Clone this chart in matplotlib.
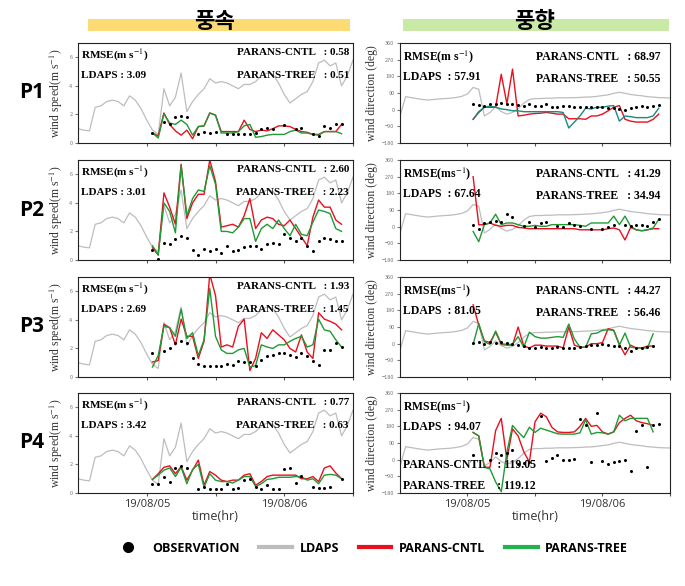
import numpy as np
import matplotlib
matplotlib.use("Agg")
import matplotlib.pyplot as plt
from matplotlib.lines import Line2D
from matplotlib.patches import Rectangle

plt.rcParams['font.family'] = ['Noto Sans CJK KR', 'DejaVu Sans']
plt.rcParams['mathtext.fontset'] = 'stix'

nan = np.nan

# time axis in hours from 19/08/04 12:00
ldaps_hours = np.arange(0, 49)
model_hours = np.arange(13, 47)

# LDAPS (same grid point in every panel)
ldaps_speed = [1.0, 0.9, 0.85, 2.5, 2.6, 2.9, 3.0, 2.9, 2.6, 3.3,
               3.0, 2.4, 1.6, 0.9, 0.6, 3.8, 2.6, 3.2, 4.9, 2.2,
               2.9, 3.4, 3.8, 4.5, 4.2, 4.3, 4.2, 4.0, 3.8, 4.1,
               4.1, 4.3, 4.7, 4.9, 4.8, 4.2, 3.4, 2.8, 3.1, 3.4,
               3.6, 4.3, 5.6, 5.8, 5.4, 5.6, 4.0, 4.7, 5.8]
ldaps_dir = [-35, 70, 65, 60, 55, 52, 55, 58, 60, 62,
             66, 72, 85, 120, 110, -34, -15, 15, -10, -24,
             -15, 5, 35, 55, 60, 60, 62, 62, 64, 64,
             64, 65, 66, 68, 69, 72, 76, 80, 88, 94,
             88, 82, 78, 75, 70, 68, 65, 64, 63]

# wind speed
obs_spd = [
    [0.7, nan, 1.5, 1.35, 1.8, 1.9, 1.8, nan, 0.6, 0.8, 0.7, 0.75, nan, 0.6, 0.6, 0.6, 0.6,
     0.6, 0.7, 1.0, 1.05, 0.95, nan, 1.25, nan, 0.95, 1.05, nan, 0.6, 0.5, 1.2, 1.05, 1.3, 1.35],
    [0.7, 0.1, 1.2, 1.15, 1.5, 1.7, 1.55, 0.7, 0.35, 0.75, 0.6, 0.75, 0.5, 1.0, 0.65, 0.7, 0.9,
     1.0, 0.95, 0.75, 1.15, 1.2, 1.1, 1.8, 1.55, 1.3, 1.55, 0.95, 0.6, 1.3, 1.55, 1.45, 1.3, 1.3],
    [1.65, nan, 1.8, 2.0, 2.35, 2.5, 2.35, 1.3, 0.9, 0.8, 0.8, 0.8, 0.75, 0.9, 0.85, 1.15, 1.05,
     1.05, 0.8, 1.2, 1.5, 1.55, 1.7, 1.7, 1.55, 1.4, 1.7, 1.5, 1.15, 0.85, 1.9, 1.9, 2.35, 2.1],
    [0.65, 0.65, 1.15, 0.8, 1.75, 1.9, 1.75, nan, 0.25, 0.4, 0.3, 0.3, 0.3, 0.65, 0.3, 0.35, 0.9,
     0.95, 0.4, 0.3, 0.55, 0.25, 0.3, 1.65, 1.75, 0.7, 1.2, nan, 0.4, 0.35, 0.35, 0.45, nan, 1.0],
]
cntl_spd = [
    [0.7, 0.5, 2.1, 1.3, 0.85, 0.55, 0.9, 0.3, 1.15, 1.2, 2.1, 1.95, 0.8, 0.8, 0.8, 0.8, 1.6,
     0.95, 0.8, 0.9, 0.85, 1.0, 1.2, 1.2, 1.15, 0.95, 0.8, 0.75, 0.6, 0.6, 0.8, 0.8, 0.8, 1.3],
    [0.85, 0.35, 4.7, 3.7, 2.5, 6.7, 2.9, 4.0, 4.6, 4.6, 7.0, 5.5, 2.3, 2.4, 2.5, 2.3, 3.1,
     4.3, 2.2, 2.8, 3.0, 2.9, 2.5, 2.4, 2.8, 2.2, 1.6, 1.0, 3.0, 4.2, 3.7, 3.7, 2.8, 2.5],
    [1.05, 1.15, 3.7, 3.45, 2.25, 4.05, 2.85, 2.85, 1.3, 2.5, 7.2, 5.7, 2.1, 2.25, 2.1, 3.55, 4.05,
     0.45, 1.3, 3.1, 2.7, 3.3, 2.95, 2.6, 2.0, 1.75, 2.95, 1.75, 1.3, 4.5, 4.05, 3.9, 3.7, 3.3],
    [0.95, 1.35, 1.8, 1.9, 1.35, 1.85, 0.9, 1.6, 2.3, 0.55, 1.5, 1.25, 0.9, 0.8, 0.9, 0.9, 1.25,
     1.35, 0.55, 0.8, 1.15, 1.25, 1.25, 1.25, 1.25, 1.25, 1.0, 1.0, 1.15, 0.8, 1.75, 1.9, 1.4, 1.0],
]
tree_spd = [
    [0.7, 0.35, 2.05, 1.4, 1.3, 1.6, 1.3, 0.55, 1.15, 1.2, 2.1, 1.95, 0.7, 0.7, 0.7, 0.8, 1.2,
     1.3, 0.4, 0.45, 0.55, 0.6, 0.6, 0.6, 0.8, 0.9, 0.7, 0.7, 0.6, 0.55, 0.8, 0.8, 0.8, 0.65],
    [1.0, 0.35, 4.0, 3.4, 1.9, 6.6, 3.1, 4.3, 4.9, 4.8, 6.6, 5.3, 2.0, 2.0, 1.9, 2.3, 2.9,
     2.9, 1.3, 2.2, 2.5, 2.2, 2.8, 2.2, 1.7, 2.5, 1.8, 1.7, 2.65, 3.5, 3.4, 3.25, 2.2, 2.0],
    [0.7, 1.5, 3.55, 3.45, 2.85, 4.75, 2.7, 3.1, 1.5, 2.6, 6.2, 2.85, 1.9, 1.65, 1.65, 1.9, 2.0,
     0.7, 0.8, 2.25, 2.1, 2.0, 2.25, 2.25, 2.5, 2.7, 2.85, 2.1, 2.25, 4.05, 3.3, 3.2, 2.6, 2.1],
    [0.95, 1.25, 1.6, 1.75, 1.15, 1.8, 0.65, 1.65, 2.0, 0.4, 1.35, 0.9, 0.8, 0.8, 0.7, 0.9, 1.15,
     1.15, 0.45, 0.65, 0.95, 1.0, 1.1, 1.1, 1.1, 1.15, 1.15, 0.9, 1.0, 0.65, 1.25, 1.3, 1.25, 1.0],
]

# wind direction
obs_dir = [
    [32, 26, 22, 32, 32, 38, 32, 32, 26, 19, 32, 22, 19, 32, 13, 13, 19,
     19, 13, 13, 13, 13, 13, 13, 8, 8, 4, 0, 8, 13, 19, 13, 22, 26],
    [11, -11, 20, 26, 30, 26, 67, 52, nan, 2, 26, -4, 20, 26, nan, 2, -4,
     20, 11, 2, nan, -11, nan, -11, -4, 7, nan, 11, 2, 7, 7, 2, 26, 39],
    [6, 11, 0, 11, 6, 11, 6, 0, -8, -13, -23, -23, -19, -23, -23, -19, -23,
     -23, -23, -19, -13, -8, -8, -4, -8, -13, -13, -23, -38, -23, -23, -19, -13, nan],
    [25, nan, nan, -4, 34, 25, 34, 53, -26, -19, -13, nan, 238, -8, 11, 25, 0,
     0, 4, 219, 185, -15, 251, -8, -23, -15, -8, -4, -60, 157, 185, -38, 189, 190],
]
cntl_dir = [
    [-52, -15, 13, 13, 13, 191, 32, 219, -34, -30, -24, -21, -19, -15, -19, -24, -24,
     -49, -49, -49, -52, -34, -34, -24, -6, 13, 22, -52, -62, -67, -67, -67, -52, -24],
    [270, 10, 11, 20, 7, 2, 7, 7, -4, -7, -11, -11, -11, -11, -11, -11, -11,
     -11, -11, -17, -17, -17, -17, -17, -11, -7, -17, -72, -4, -17, -22, -17, -11, -11],
    [210, 100, 15, 6, 62, -4, -8, -8, 90, -13, -23, -8, -8, -13, -13, -13, -23,
     90, -8, -19, -19, 0, 0, 6, 81, 72, -4, -60, -8, -23, -23, -13, -13, nan],
    [147, 128, -41, -41, 157, 223, 0, 166, 128, 43, -13, 204, 251, 232, 175, 150, 147,
     147, 150, 180, 223, 180, 185, 150, 138, 150, 200, 223, 240, 210, 200, 194, 185, nan],
]
tree_dir = [
    [-52, -11, 13, 19, 13, 4, 0, -6, -6, -11, -11, -11, -11, -11, -11, -11, -15,
     -99, -67, -34, 8, 4, 13, 13, 19, 22, -62, -34, -38, -43, -43, -43, -34, 8],
    [-26, -81, 11, 20, 67, 11, 20, 20, 11, 2, 2, 7, 2, 2, 11, 11, 11,
     11, 11, 7, 2, 20, 20, 20, 20, 57, 11, 57, 2, -17, -22, -17, -7, 39],
    [-4, 109, 11, -4, 68, 0, -4, -4, 38, -19, 62, 38, 30, 30, 34, 38, 34,
     106, 25, -19, -19, 53, 57, 72, 75, 72, -8, 57, -19, -23, -23, -23, 53, nan],
    [147, 128, -41, -50, -120, -173, 40, 185, 150, 119, 175, 147, 170, 160, 150, 140, 138,
     138, 138, 145, 215, 138, 147, 145, 138, 150, 240, 210, 223, 223, 223, 223, 150, nan],
]

# RMSE texts
points = ['P1', 'P2', 'P3', 'P4']
spd_ldaps = ['3.09', '3.01', '2.69', '3.42']
spd_cntl = ['0.58', '2.60', '1.93', '0.77']
spd_tree = ['0.51', '2.23', '1.45', '0.63']
dir_ldaps = ['57.91', '67.64', '81.05', '94.07']
dir_cntl = ['68.97', '41.29', '44.27', '119.05']
dir_tree = ['50.55', '34.94', '56.46', '119.12']

xticks = [12, 24, 36, 48]
xticklabels = ['19/08/05', '', '19/08/06', '']

c_ldaps = '#bdbdbd'
c_cntl = '#e8101e'
c_tree = '#1f9a36'
serif = 'Liberation Serif'

W, H = 685, 586
fig = plt.figure(figsize=(W / 100, H / 100), dpi=100)

# headers with highlight bands
fig.add_artist(Rectangle((88 / W, 1 - 31 / H), 262 / W, 12 / H,
                         transform=fig.transFigure, color='#fdd865', lw=0, alpha=0.9))
fig.add_artist(Rectangle((403 / W, 1 - 31 / H), 266 / W, 12 / H,
                         transform=fig.transFigure, color='#c4e89c', lw=0, alpha=0.9))
fig.text(215 / W, 1 - 21 / H, '풍속', ha='center', va='center', fontsize=16,
         fontweight='bold', family=['Noto Sans CJK KR', 'DejaVu Sans'])
fig.text(535 / W, 1 - 21 / H, '풍향', ha='center', va='center', fontsize=16,
         fontweight='bold', family=['Noto Sans CJK KR', 'DejaVu Sans'])

row_tops = [43, 160, 277, 393]
ax_h = 100

for i in range(4):
    top = row_tops[i]
    axl = fig.add_axes([78 / W, 1 - (top + ax_h) / H, 275 / W, ax_h / H])
    axr = fig.add_axes([400 / W, 1 - (top + ax_h) / H, 270 / W, ax_h / H])

    # wind speed
    axl.plot(ldaps_hours, ldaps_speed, color=c_ldaps, lw=0.9)
    axl.plot(model_hours, cntl_spd[i], color=c_cntl, lw=1.0)
    axl.plot(model_hours, tree_spd[i], color=c_tree, lw=1.0)
    axl.plot(model_hours, obs_spd[i], 'o', color='black', ms=2.2, mew=0)
    axl.set_ylim(0, 7)
    axl.set_yticks([0, 2, 4, 6])
    axl.set_ylabel('wind speed(m s$^{-1}$)', family=serif, fontsize=8.5,
                   color='#333333', labelpad=3)

    # wind direction
    tree_col = '#1a8a80' if i == 0 else c_tree
    axr.plot(ldaps_hours, ldaps_dir, color=c_ldaps, lw=0.9)
    axr.plot(model_hours, cntl_dir[i], color=c_cntl, lw=1.0)
    axr.plot(model_hours, tree_dir[i], color=tree_col, lw=1.0)
    axr.plot(model_hours, obs_dir[i], 'o', color='black', ms=2.2, mew=0)
    axr.set_ylim(-180, 360)
    axr.set_yticks([-180, -90, 0, 90, 180, 270, 360])
    axr.set_ylabel('wind direction (deg)', family=serif, fontsize=8.5,
                   color='#333333', labelpad=3)

    for ax in (axl, axr):
        ax.set_xlim(0, 48)
        ax.set_xticks(xticks)
        if i == 3:
            ax.set_xticklabels(xticklabels, fontsize=8, color='#333333',
                               family=['Open Sans', 'DejaVu Sans'])
            ax.set_xlabel('time(hr)', fontsize=9, color='#333333', labelpad=0,
                          family=['Open Sans', 'DejaVu Sans'])
        else:
            ax.set_xticklabels([])
        ax.tick_params(axis='y', labelsize=4, colors='#777777', length=2, pad=2)
        ax.tick_params(axis='x', length=2, pad=2, color='#555555')
        for s in ax.spines.values():
            s.set_linewidth(0.8)
            s.set_color('#222222')

    # RMSE annotations
    tkw = dict(family=serif, fontweight='bold', fontsize=8, transform=axl.transAxes)
    axl.text(0.01, 0.95, 'RMSE(m s$^{-1}$)', va='top', ha='left', **tkw)
    axl.text(0.01, 0.72, 'LDAPS : ' + spd_ldaps[i], va='top', ha='left', **tkw)
    axl.text(0.985, 0.95, 'PARANS-CNTL   : ' + spd_cntl[i], va='top', ha='right', **tkw)
    axl.text(0.985, 0.72, 'PARANS-TREE   : ' + spd_tree[i], va='top', ha='right', **tkw)

    rkw = dict(family=serif, fontweight='bold', fontsize=8.5, transform=axr.transAxes)
    rmse_lbl = 'RMSE(m s$^{-1}$)' if i == 0 else 'RMSE(ms$^{-1}$)'
    axr.text(0.01, 0.95, rmse_lbl, va='top', ha='left', **rkw)
    axr.text(0.01, 0.72, 'LDAPS  : ' + dir_ldaps[i], va='top', ha='left', **rkw)
    if i == 3:
        axr.text(0.01, 0.34, 'PARANS-CNTL    : ' + dir_cntl[i], va='top', ha='left', **rkw)
        axr.text(0.01, 0.13, 'PARANS-TREE    : ' + dir_tree[i], va='top', ha='left', **rkw)
    else:
        axr.text(0.965, 0.92, 'PARANS-CNTL   : ' + dir_cntl[i], va='top', ha='right', **rkw)
        axr.text(0.965, 0.70, 'PARANS-TREE   : ' + dir_tree[i], va='top', ha='right', **rkw)

    fig.text(32 / W, 1 - (top + ax_h / 2) / H, points[i], ha='center', va='center',
             fontsize=15, fontweight='bold', family=['Open Sans', 'DejaVu Sans'])

# legend
handles = [
    Line2D([], [], marker='o', color='black', ls='none', ms=7),
    Line2D([], [], color=c_ldaps, lw=3),
    Line2D([], [], color='#e8101e', lw=3),
    Line2D([], [], color='#23b14d', lw=3),
]
labels = ['OBSERVATION', 'LDAPS', 'PARANS-CNTL', 'PARANS-TREE']
fig.legend(handles, labels, loc='center', bbox_to_anchor=(370 / W, 1 - 548 / H), ncol=4,
           frameon=False, handlelength=2.6, handletextpad=0.6, columnspacing=1.6,
           prop={'family': ['Open Sans', 'DejaVu Sans'], 'weight': 'bold', 'size': 9})

fig.savefig('out.png', dpi=100)
